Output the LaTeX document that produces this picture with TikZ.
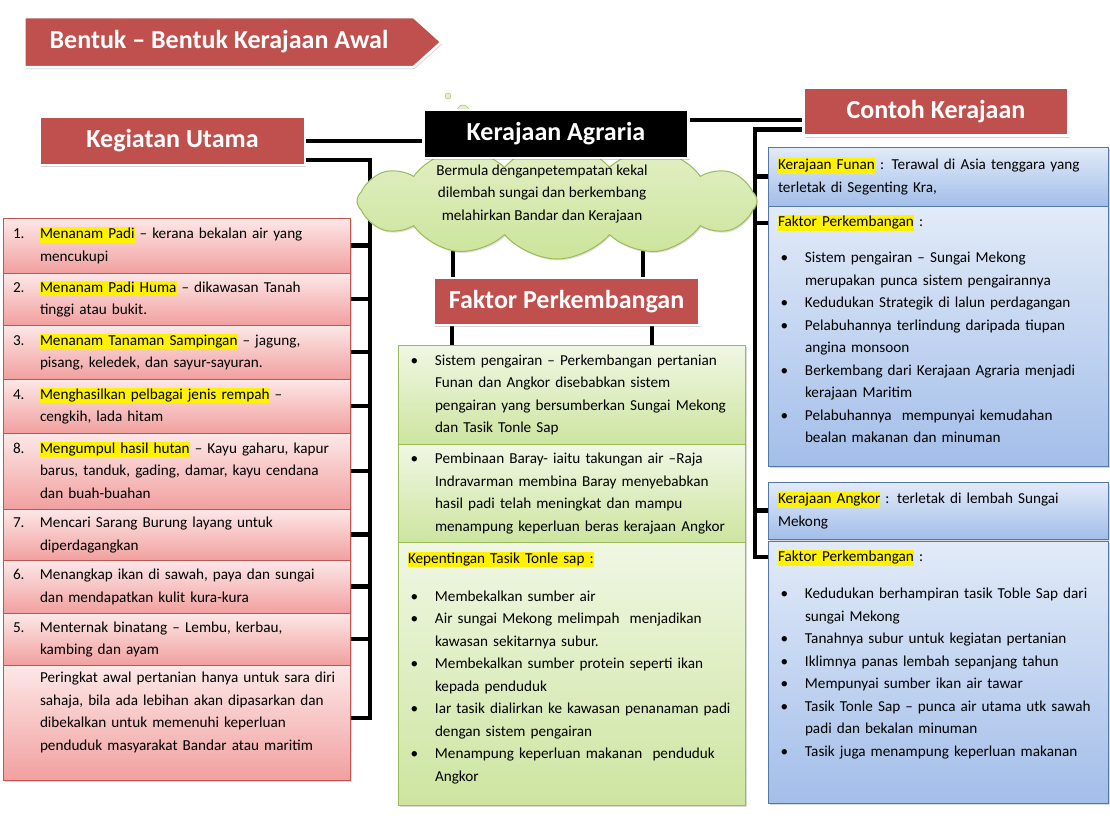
\documentclass[tikz,border=0pt]{standalone}
\usepackage{fontspec}
\setmainfont{Carlito}
\usepackage{tikz}
\usetikzlibrary{positioning, shapes.symbols, shadows, backgrounds}
\usepackage{xcolor}

\definecolor{hdrred}{RGB}{192,80,77}
\definecolor{pinktop}{RGB}{253,232,232}
\definecolor{pinkbot}{RGB}{241,160,159}
\definecolor{pinkline}{RGB}{190,85,82}
\definecolor{greentop}{RGB}{240,247,228}
\definecolor{greenbot}{RGB}{205,229,160}
\definecolor{greenline}{RGB}{155,187,89}
\definecolor{bluetop}{RGB}{226,235,248}
\definecolor{bluebot}{RGB}{163,190,233}
\definecolor{blueline}{RGB}{85,118,168}
\definecolor{cloudtop}{RGB}{226,240,198}
\definecolor{cloudbot}{RGB}{204,228,155}

% yellow marker and list layouts
\newcommand{\hilite}[1]{{\setlength{\fboxsep}{0pt}\colorbox{yellow}{\rule[-4pt]{0pt}{15.5pt}#1}}}
\newcommand{\numrows}[1]{\begin{tabular}{@{}p{27pt}@{}l@{}}#1\end{tabular}}
\newcommand{\bulrows}[1]{\begin{tabular}{@{\hspace{2.5pt}}p{24.5pt}@{}l@{}}#1\end{tabular}}
\newcommand{\hdline}[1]{\multicolumn{2}{@{}l@{}}{#1}}

\begin{document}
\begin{tikzpicture}[x=1pt, y=-1pt,
    header/.style={rectangle, fill=hdrred, draw=white, line width=2.5pt, text=white,
        font=\bfseries\fontsize{26}{30}\selectfont, minimum width=265pt, minimum height=48pt,
        inner sep=0pt, outer sep=0pt, drop shadow={shadow xshift=1pt, shadow yshift=-2pt, opacity=0.35}},
    itembox/.style={rectangle, anchor=north west, inner xsep=10pt, inner ysep=0pt, outer sep=0pt,
        align=left, font=\fontsize{15.2}{22.5}\selectfont,
        drop shadow={shadow xshift=1.5pt, shadow yshift=-1.5pt, opacity=0.3}},
    pinkbox/.style={itembox, draw=pinkline, top color=pinktop, bottom color=pinkbot, text width=327pt},
    greenbox/.style={itembox, draw=greenline, top color=greentop, bottom color=greenbot, text width=327pt},
    bluebox/.style={itembox, draw=blueline, top color=bluetop, bottom color=bluebot, text width=320pt},
    conn/.style={draw=black, line width=4.5pt}]

        \useasboundingbox (0,0) rectangle (1110,831);

        % Title arrow
        \node[header, signal, signal to=east, signal pointer angle=84, minimum width=417pt,
            minimum height=50pt] (title) at (219,42) {Bentuk – Bentuk Kerajaan Awal};

        % Cloud with its text
        \node[cloud, cloud puffs=12, cloud puff arc=100, cloud ignores aspect, minimum width=400pt,
            minimum height=116pt, draw=greenline, line width=1pt, top color=cloudtop, bottom color=cloudbot,
            drop shadow={shadow xshift=1pt, shadow yshift=-1.5pt, opacity=0.25}] (cloud) at (557,201) {};
        \node[circle, draw=greenline, fill=cloudtop, minimum size=6pt, inner sep=0pt] (bub1) at (448,96) {};
        \node[circle, draw=greenline, fill=cloudtop, minimum size=12pt, inner sep=0pt] (bub2) at (463,111) {};
        \node[font=\fontsize{15.2}{22.5}\selectfont, align=center] (cloudtext) at (542,194)
            {Bermula denganpetempatan kekal\\dilembah sungai dan berkembang\\melahirkan Bandar dan Kerajaan};

        % Header boxes
        \node[header] (kegiatan) at (172.5,141) {Kegiatan Utama};
        \node[header, fill=black] (agraria) at (556,134) {Kerajaan Agraria};
        \node[header] (contoh) at (936,111.5) {Contoh Kerajaan};
        \node[header, minimum height=47pt] (faktor) at (566.5,301.5) {Faktor Perkembangan};

        % Left column: main activities
        \node[pinkbox, minimum height=55pt] (r1) at (3,218) {\numrows{
            1. & \hilite{Menanam Padi} – kerana bekalan air yang\\
               & mencukupi}};
        \node[pinkbox, minimum height=52pt, below=0pt of r1] (r2) {\numrows{
            2. & \hilite{Menanam Padi Huma} – dikawasan Tanah\\
               & tinggi atau bukit.}};
        \node[pinkbox, minimum height=54pt, below=0pt of r2] (r3) {\numrows{
            3. & \hilite{Menanam Tanaman Sampingan} – jagung,\\
               & pisang, keledek, dan sayur-sayuran.}};
        \node[pinkbox, minimum height=54pt, below=0pt of r3] (r4) {\numrows{
            4. & \hilite{Menghasilkan pelbagai jenis rempah} –\\
               & cengkih, lada hitam}};
        \node[pinkbox, minimum height=76pt, below=0pt of r4] (r5) {\numrows{
            8. & \hilite{Mengumpul hasil hutan} – Kayu gaharu, kapur\\
               & barus, tanduk, gading, damar, kayu cendana\\
               & dan buah-buahan}};
        \node[pinkbox, minimum height=51pt, below=0pt of r5] (r6) {\numrows{
            7. & Mencari Sarang Burung layang untuk\\
               & diperdagangkan}};
        \node[pinkbox, minimum height=53pt, below=0pt of r6] (r7) {\numrows{
            6. & Menangkap ikan di sawah, paya dan sungai\\
               & dan mendapatkan kulit kura-kura}};
        \node[pinkbox, minimum height=52pt, below=0pt of r7] (r8) {\numrows{
            5. & Menternak binatang – Lembu, kerbau,\\
               & kambing dan ayam}};
        \node[pinkbox, minimum height=115pt, below=0pt of r8] (r9) {\numrows{
               & Peringkat awal pertanian hanya untuk sara diri\\
               & sahaja, bila ada lebihan akan dipasarkan dan\\
               & dibekalkan untuk memenuhi keperluan\\
               & penduduk masyarakat Bandar atau maritim\\[21pt]}};

        % Middle column: factors
        \node[greenbox, minimum height=99pt] (g1) at (398,345) {\bulrows{
            \textbullet & Sistem pengairan – Perkembangan pertanian\\
                        & Funan dan Angkor disebabkan sistem\\
                        & pengairan yang bersumberkan Sungai Mekong\\
                        & dan Tasik Tonle Sap}};
        \node[greenbox, minimum height=98pt, below=0pt of g1] (g2) {\bulrows{
            \textbullet & Pembinaan Baray- iaitu takungan air –Raja\\
                        & Indravarman membina Baray menyebabkan\\
                        & hasil padi telah meningkat dan mampu\\
                        & menampung keperluan beras kerajaan Angkor}};
        \node[greenbox, minimum height=263pt, below=0pt of g2] (g3) {\bulrows{
            \hdline{\hilite{Kepentingan Tasik Tonle sap :}}\\[15.5pt]
            \textbullet & Membekalkan sumber air\\
            \textbullet & Air sungai Mekong melimpah\ \ menjadikan\\
                        & kawasan sekitarnya subur.\\
            \textbullet & Membekalkan sumber protein seperti ikan\\
                        & kepada penduduk\\
            \textbullet & Iar tasik dialirkan ke kawasan penanaman padi\\
                        & dengan sistem pengairan\\
            \textbullet & Menampung keperluan makanan\ \ penduduk\\
                        & Angkor\\[12pt]}};

        % Right column: kingdoms
        \node[bluebox, minimum height=59pt] (b1) at (768,147)
            {\hilite{Kerajaan Funan} : Terawal di Asia tenggara yang\\terletak di Segenting Kra,};
        \node[bluebox, minimum height=260pt, below=0pt of b1] (b2) {\bulrows{
            \hdline{\hilite{Faktor Perkembangan} :}\\[13.5pt]
            \textbullet & Sistem pengairan – Sungai Mekong\\
                        & merupakan punca sistem pengairannya\\
            \textbullet & Kedudukan Strategik di lalun perdagangan\\
            \textbullet & Pelabuhannya terlindung daripada tiupan\\
                        & angina monsoon\\
            \textbullet & Berkembang dari Kerajaan Agraria menjadi\\
                        & kerajaan Maritim\\
            \textbullet & Pelabuhannya\ \ mempunyai kemudahan\\
                        & bealan makanan dan minuman\\[12pt]}};
        \node[bluebox, minimum height=57pt] (b3) at (768,482)
            {\hilite{Kerajaan Angkor} : terletak di lembah Sungai\\Mekong};
        \node[bluebox, minimum height=262pt, below=2pt of b3] (b4) {\bulrows{
            \hdline{\hilite{Faktor Perkembangan} :}\\[14.5pt]
            \textbullet & Kedudukan berhampiran tasik Toble Sap dari\\
                        & sungai Mekong\\
            \textbullet & Tanahnya subur untuk kegiatan pertanian\\
            \textbullet & Iklimnya panas lembah sepanjang tahun\\
            \textbullet & Mempunyai sumber ikan air tawar\\
            \textbullet & Tasik Tonle Sap – punca air utama utk sawah\\
                        & padi dan bekalan minuman\\
            \textbullet & Tasik juga menampung keperluan makanan\\[35pt]}};

        % Connectors (behind the boxes)
        \begin{scope}[on background layer]
            \draw[conn] (kegiatan.center) -- (kegiatan.center -| agraria.center);
            \draw[conn] ([yshift=-10pt]agraria.north) -- ([yshift=-10pt]agraria.north -| contoh.center);

            % Left bracket
            \coordinate (lbend) at (370,718);
            \draw[conn] ([yshift=5pt]kegiatan.south) -| (lbend) -- (lbend -| r9.center);
            \foreach \i in {1,...,8}
                \draw[conn] (r\i.center) -- (r\i.center -| lbend);

            % Right bracket
            \coordinate (rbend) at (755,557);
            \draw[conn] ([yshift=6pt]contoh.south) -| (rbend) -- (rbend -| b4.center);
            \draw[conn] (b1.center) -- (b1.center -| rbend);
            \draw[conn] ([yshift=-17pt]b2.north) -- ([yshift=-17pt]b2.north -| rbend);
            \draw[conn] (b3.center) -- (b3.center -| rbend);

            % Cloud to factors, factors to list
            \draw[conn] ([xshift=19pt]faktor.west) -- ([xshift=19pt]faktor.west |- cloud.center);
            \draw[conn] ([xshift=209pt]faktor.west) -- ([xshift=209pt]faktor.west |- cloud.center);
            \draw[conn] ([xshift=18pt]faktor.west) -- ([xshift=18pt]faktor.west |- g1.center);
            \draw[conn] ([xshift=218pt]faktor.west) -- ([xshift=218pt]faktor.west |- g1.center);
        \end{scope}
    \end{tikzpicture}
\end{document}
